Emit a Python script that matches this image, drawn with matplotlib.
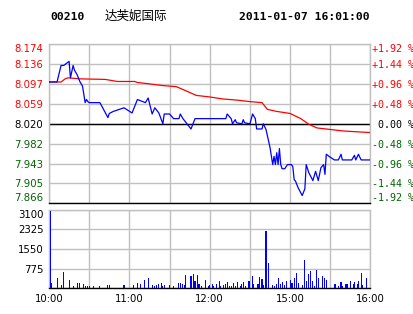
import matplotlib
matplotlib.use("Agg")
import numpy as np
import matplotlib.pyplot as plt

# minutes since 10:00 (trading time only, 240 min total)
price_min = [0, 6, 9, 11, 15, 16, 18, 19, 21, 23, 25, 27, 28, 29, 30, 38, 44, 45, 48, 56,
             59, 62, 66, 72, 74, 77, 79, 82, 85, 86, 90, 93, 97, 98, 100, 106, 109, 132, 133, 136,
             137, 139, 140, 144, 145, 146, 150, 152, 154, 155, 159, 160, 162, 165, 167, 168, 169, 170, 171, 172,
             173, 174, 176, 178, 181, 182, 183, 184, 186, 189, 191, 192, 194, 197, 199, 201, 203, 205, 206, 207,
             209, 213, 216, 218, 219, 226, 228, 229, 231, 233, 240]
price = [8.101, 8.101, 8.133, 8.133, 8.141, 8.109, 8.133, 8.124, 8.115, 8.102,
         8.093, 8.061, 8.067, 8.063, 8.061, 8.061, 8.032, 8.040, 8.044, 8.051,
         8.046, 8.041, 8.067, 8.061, 8.070, 8.039, 8.051, 8.041, 8.020, 8.039,
         8.039, 8.030, 8.030, 8.039, 8.030, 8.010, 8.030, 8.030, 8.039, 8.030,
         8.020, 8.028, 8.022, 8.020, 8.028, 8.022, 8.020, 8.039, 8.030, 8.010,
         8.010, 8.020, 8.009, 7.974, 7.941, 7.957, 7.941, 7.964, 7.941, 7.972,
         7.941, 7.933, 7.933, 7.941, 7.941, 7.937, 7.912, 7.909, 7.896, 7.881,
         7.894, 7.941, 7.925, 7.910, 7.928, 7.910, 7.935, 7.941, 7.922, 7.961,
         7.957, 7.950, 7.950, 7.961, 7.950, 7.950, 7.959, 7.950, 7.961, 7.950,
         7.950]

avg_min = [0, 9, 12, 14, 24, 42, 51, 64, 66, 73, 85, 95, 103, 110, 120, 130, 140, 150, 159, 163,
           170, 180, 188, 194, 200, 210, 220, 240]
avg = [8.101, 8.101, 8.107, 8.109, 8.107, 8.106, 8.102, 8.102, 8.100, 8.098,
       8.094, 8.092, 8.083, 8.075, 8.072, 8.068, 8.066, 8.063, 8.061, 8.048,
       8.044, 8.040, 8.030, 8.019, 8.012, 8.009, 8.006, 8.003]

vol_min = [1, 2, 6, 9, 11, 15, 18, 21, 23, 26, 27, 29, 30, 33, 38, 44, 45, 56, 63, 66,
           68, 71, 74, 77, 79, 80, 82, 84, 85, 86, 90, 93, 97, 98, 100, 101, 102, 106, 108, 109,
           111, 112, 114, 117, 119, 120, 122, 123, 125, 127, 128, 130, 132, 133, 135, 136, 138, 139, 141, 143,
           144, 145, 147, 149, 150, 152, 153, 156, 157, 159, 160, 162, 164, 167, 168, 170, 171, 173, 174, 176,
           177, 180, 181, 182, 183, 185, 186, 189, 191, 192, 194, 195, 197, 198, 200, 201, 204, 206, 207, 213,
           214, 216, 218, 219, 221, 222, 223, 225, 227, 228, 230, 231, 233, 234, 237, 240]
vol = [3040, 200, 410, 130, 645, 330, 105, 210, 210, 185, 105, 105, 105, 105, 105, 130, 130, 130, 130, 210,
       185, 330, 410, 130, 105, 130, 185, 210, 105, 130, 130, 105, 210, 210, 160, 130, 530, 490, 570, 290,
       530, 160, 105, 330, 105, 130, 160, 105, 160, 290, 105, 130, 185, 240, 105, 105, 210, 105, 265, 105,
       185, 265, 105, 290, 290, 500, 185, 185, 450, 370, 130, 2270, 1000, 130, 105, 185, 410, 185, 250, 130,
       290, 320, 210, 210, 420, 610, 210, 130, 1120, 290, 570, 685, 290, 105, 725, 400, 490, 400, 330, 185,
       185, 105, 250, 105, 185, 185, 185, 290, 185, 250, 185, 290, 610, 130, 410, 185]

price_labels = ["7.866", "7.905", "7.943", "7.982", "8.020", "8.059", "8.097", "8.136", "8.174"]
pct_labels = ["-1.92 %", "-1.44 %", "-0.96 %", "-0.48 %", " 0.00 %", "+0.48 %", "+0.96 %", "+1.44 %", "+1.92 %"]
vol_labels = ["", "775", "1550", "2325", "3100"]
time_labels = ["10:00", "", "11:00", "", "12:00", "", "15:00", "", "16:00"]

RED = "#ff0000"
GREEN = "#006400"
GRID = "#c0c0c0"

W, H = 414, 314
fig = plt.figure(figsize=(W / 100, H / 100), dpi=100)

def box(l, t, r, b):
    return [l / W, 1 - b / H, (r - l) / W, (b - t) / H]

ax = fig.add_axes(box(49, 44.3, 370.5, 203.3))
axv = fig.add_axes(box(49, 209.5, 370.5, 288.3))

ymin, ymax = 7.866, 8.174
yt = np.linspace(ymin, ymax, 9)
xt = np.arange(0, 241, 30)

for a in (ax, axv):
    a.set_xlim(0, 240)
    a.set_xticks(xt)
    a.grid(True, color=GRID, lw=1.0)
    a.set_axisbelow(True)
    for s in ("left", "top", "right"):
        a.spines[s].set_color(GRID)
        a.spines[s].set_linewidth(1.0)
    a.spines["bottom"].set_color("black")
    a.spines["bottom"].set_linewidth(1.0)
    a.tick_params(length=0)

# price panel
ax.set_ylim(ymin, ymax)
ax.set_yticks(yt)
ax.set_yticklabels(price_labels, fontsize=7.3, family="DejaVu Sans")
ax.tick_params(axis="y", pad=4)
ax.set_xticklabels([])
for i, lab in enumerate(ax.get_yticklabels()):
    lab.set_color(GREEN if i < 4 else ("black" if i == 4 else RED))
    if i == 0:
        lab.set_va("bottom")
    elif i == 8:
        lab.set_va("top")
ax.axhline(yt[4], color="black", lw=1.0, zorder=2)
ax.plot(avg_min, avg, color=RED, lw=0.9, zorder=3)
ax.plot(price_min, price, color="#0000ff", lw=0.9, zorder=4)

ax2 = ax.twinx()
ax2.set_ylim(ymin, ymax)
ax2.set_yticks(yt)
ax2.set_yticklabels(pct_labels, fontsize=7.2, family="DejaVu Sans Mono")
ax2.tick_params(length=0, pad=1)
for s in ax2.spines.values():
    s.set_visible(False)
for i, lab in enumerate(ax2.get_yticklabels()):
    lab.set_color(GREEN if i < 4 else ("black" if i == 4 else RED))
    if i == 0:
        lab.set_va("bottom")
    elif i == 8:
        lab.set_va("top")

# volume panel
axv.bar(vol_min, vol, width=0.8, color="#0000ff", linewidth=0, zorder=3)
axv.set_ylim(0, 3100)
axv.set_yticks([0, 775, 1550, 2325, 3100])
axv.set_yticklabels(vol_labels, fontsize=7.3)
axv.get_yticklabels()[-1].set_va("top")
axv.tick_params(axis="y", pad=4)
axv.set_xticklabels(time_labels, fontsize=7.3)
axv.tick_params(axis="x", pad=4)

# header
fig.text(50 / W, 1 - 16.5 / H, "00210", fontsize=8.2, family="DejaVu Sans Mono",
         weight="bold", va="center", ha="left")
fig.text(105 / W, 1 - 16 / H, "达芙妮国际", fontsize=9,
         family=["Noto Sans CJK SC", "DejaVu Sans"], va="center", ha="left")
fig.text(370 / W, 1 - 16.5 / H, "2011-01-07 16:01:00", fontsize=8.2,
         family="DejaVu Sans Mono", weight="bold", va="center", ha="right")

fig.savefig("out.png", dpi=100)
